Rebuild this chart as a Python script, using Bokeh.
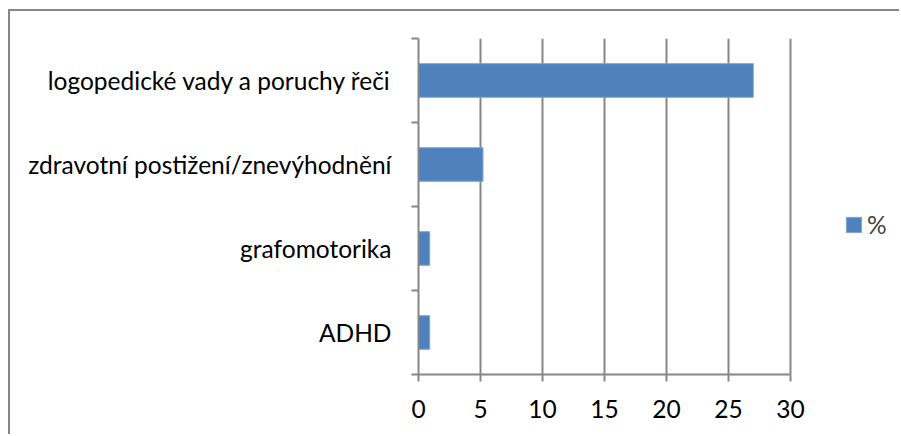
from bokeh.plotting import figure
from bokeh.models import FixedTicker, Legend, LegendItem, ColumnDataSource
from bokeh.embed import file_html
from bokeh.resources import INLINE

# data
categories = ["ADHD", "grafomotorika", "zdravotní postižení/znevýhodnění", "logopedické vady a poruchy řeči"]
values = [0.9, 0.9, 5.2, 27.0]
series_name = "%"
x_ticks = [0, 5, 10, 15, 20, 25, 30]

positions = [i + 0.5 for i in range(len(categories))]
src = ColumnDataSource(dict(y=positions, v=values, cat=categories))

FONT = "Lato"
GRAY = "#868686"
BLUE = "#4F81BD"

W, H = 891, 425
LEFT, TOP, BOTTOM = 408, 27, 62
AXIS_PX = 372  # pixel length of the 0..30 value axis
x_max = x_ticks[-1] * (W - LEFT) / AXIS_PX  # empty room on the right for the legend

p = figure(width=W, height=H, output_backend="svg", toolbar_location=None,
           x_range=(0, x_max), y_range=(0, len(categories)),
           min_border_left=LEFT, min_border_top=TOP, min_border_bottom=BOTTOM, min_border_right=0)
p.styles = {"border-top": f"2px solid {GRAY}", "border-left": f"2px solid {GRAY}",
            "margin-left": "8px", "margin-top": "9px"}
p.outline_line_color = None
p.background_fill_color = "white"
p.border_fill_color = "white"

r = p.hbar(y="y", right="v", left=0, height=0.4, source=src, fill_color=BLUE, line_color="#7FA3D1", line_width=1)

# x axis
p.xaxis.ticker = FixedTicker(ticks=x_ticks)
p.xaxis.bounds = (x_ticks[0], x_ticks[-1])
p.xaxis.axis_line_color = GRAY
p.xaxis.axis_line_width = 2
p.xaxis.major_tick_line_color = GRAY
p.xaxis.major_tick_line_width = 2
p.xaxis.major_tick_out = 7
p.xaxis.major_tick_in = 0
p.xaxis.minor_tick_line_color = None
p.xaxis.major_label_text_font = FONT
p.xaxis.major_label_text_font_size = "24.5px"
p.xaxis.major_label_text_color = "black"
p.xaxis.major_label_standoff = 18

# y axis: labels at category centres, ticks at boundaries
p.yaxis.ticker = FixedTicker(ticks=positions, minor_ticks=list(range(len(categories) + 1)))
p.yaxis.major_label_overrides = {pos: c for pos, c in zip(positions, categories)}
p.yaxis.axis_line_color = GRAY
p.yaxis.axis_line_width = 2
p.yaxis.major_tick_line_color = None
p.yaxis.minor_tick_line_color = GRAY
p.yaxis.minor_tick_line_width = 2
p.yaxis.minor_tick_out = 7
p.yaxis.minor_tick_in = 0
p.yaxis.major_label_text_font = FONT
p.yaxis.major_label_text_font_size = "24.5px"
p.yaxis.major_label_text_color = "black"
p.yaxis.major_label_standoff = 20

p.xgrid.ticker = FixedTicker(ticks=x_ticks)
p.xgrid.grid_line_color = GRAY
p.xgrid.grid_line_width = 2
p.ygrid.grid_line_color = None

legend = Legend(items=[LegendItem(label=series_name, renderers=[r])],
                location=(426, 135), margin=0, padding=0,
                glyph_width=19, glyph_height=19, label_standoff=4,
                label_text_font=FONT, label_text_font_size="24.5px",
                border_line_color=None, background_fill_alpha=0)
p.add_layout(legend, "center")

open("out.html", "w").write(file_html(p, INLINE))
